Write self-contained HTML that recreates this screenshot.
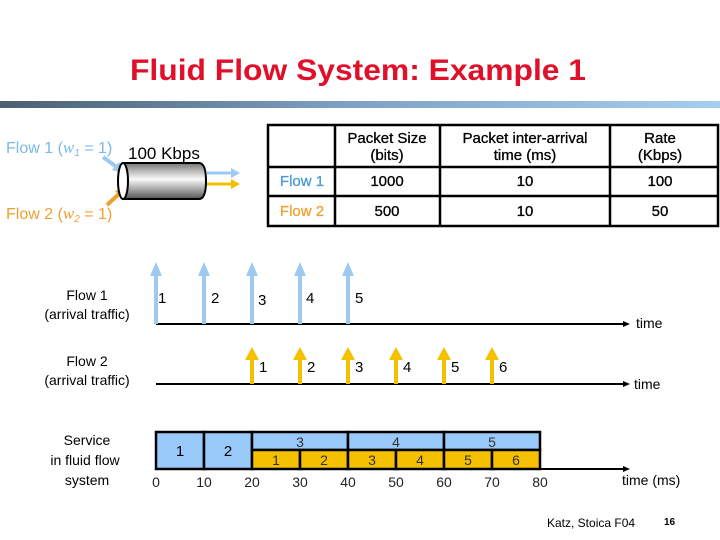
<!DOCTYPE html>
<html><head><meta charset="utf-8"><style>
html,body{margin:0;padding:0;background:#fff}
svg{display:block}
text{font-family:"Liberation Sans",sans-serif}
</style></head><body>
<svg width="720" height="540" viewBox="0 0 720 540" xmlns="http://www.w3.org/2000/svg">
<defs>
<linearGradient id="bar" x1="0" x2="1" y1="0" y2="0"><stop offset="0" stop-color="#4a5f72"/><stop offset="0.5" stop-color="#7fa3c8"/><stop offset="1" stop-color="#a6cdf2"/></linearGradient>
<linearGradient id="cyl" x1="0" x2="0" y1="0" y2="1"><stop offset="0" stop-color="#777"/><stop offset="0.45" stop-color="#fafafa"/><stop offset="1" stop-color="#555"/></linearGradient>
</defs>
<text x="130" y="80" font-size="30" font-weight="bold" fill="#e0102a" textLength="456" lengthAdjust="spacingAndGlyphs">Fluid Flow System: Example 1</text>
<rect x="0" y="101" width="720" height="7" fill="url(#bar)"/>

<text x="6" y="153" font-size="16" fill="#7ab8e8">Flow 1 (<tspan font-family="Liberation Serif" font-style="italic" font-size="17">w</tspan><tspan font-size="10" font-style="italic" dy="3">1</tspan><tspan dy="-3"> = 1)</tspan></text>
<text x="128" y="159" font-size="17" fill="#000">100 Kbps</text>
<text x="6" y="219" font-size="16" fill="#f0a030">Flow 2 (<tspan font-family="Liberation Serif" font-style="italic" font-size="17">w</tspan><tspan font-size="10" font-style="italic" dy="3">2</tspan><tspan dy="-3"> = 1)</tspan></text>
<line x1="103" y1="157" x2="118" y2="168" stroke="#9ccaf0" stroke-width="4"/>
<polygon points="125,174 112,170 119,162" fill="#9ccaf0"/>
<line x1="107" y1="205" x2="120" y2="193" stroke="#f0a030" stroke-width="4"/>
<polygon points="126,187 123,199 115,191" fill="#f0a030"/>
<path d="M123,163 L199,163 Q206,163 206,181 Q206,199 199,199 L123,199 Z" fill="url(#cyl)" stroke="#000" stroke-width="2"/>
<ellipse cx="123" cy="181" rx="5" ry="18" fill="#fff" stroke="#000" stroke-width="2"/>
<line x1="207" y1="173" x2="232" y2="173" stroke="#9ccaf0" stroke-width="3"/>
<polygon points="240,173 231,168 231,178" fill="#9ccaf0"/>
<line x1="207" y1="184" x2="232" y2="184" stroke="#f5c000" stroke-width="3"/>
<polygon points="240,184 231,179 231,189" fill="#f5c000"/>

<g stroke="#000" stroke-width="2.5" fill="none">
<rect x="268" y="125" width="450" height="101"/>
<line x1="268" y1="167" x2="718" y2="167"/>
<line x1="268" y1="196" x2="718" y2="196"/>
<line x1="335" y1="125" x2="335" y2="226"/>
<line x1="440" y1="125" x2="440" y2="226"/>
<line x1="610" y1="125" x2="610" y2="226"/>
</g>
<g font-size="15" text-anchor="middle" fill="#000" stroke="#000" stroke-width="0.3">
<text x="387" y="143">Packet Size</text><text x="387" y="160">(bits)</text>
<text x="525" y="143">Packet inter-arrival</text><text x="525" y="160">time (ms)</text>
<text x="660" y="143">Rate</text><text x="660" y="160">(Kbps)</text>
<text x="302" y="186" fill="#4a9ad8" stroke="#4a9ad8">Flow 1</text><text x="387" y="186">1000</text><text x="525" y="186">10</text><text x="660" y="186">100</text>
<text x="302" y="216" fill="#f0a030" stroke="#f0a030">Flow 2</text><text x="387" y="216">500</text><text x="525" y="216">10</text><text x="660" y="216">50</text>
</g>

<g font-size="14" text-anchor="middle" fill="#000">
<text x="87" y="300">Flow 1</text><text x="87" y="319">(arrival traffic)</text>
<text x="87" y="366">Flow 2</text><text x="87" y="385">(arrival traffic)</text>
<text x="87" y="445">Service</text><text x="85" y="465">in fluid flow</text><text x="87" y="485">system</text>
</g>

<g stroke="#000" stroke-width="2">
<line x1="156" y1="324" x2="626" y2="324"/>
<line x1="156" y1="384" x2="626" y2="384"/>
<line x1="156" y1="469" x2="626" y2="469"/>
</g>
<polygon points="630,324 623,321 623,327"/><polygon points="630,384 623,381 623,387"/><polygon points="630,469 623,466 623,472"/>
<g font-size="14" fill="#000">
<text x="636" y="328">time</text>
<text x="634" y="389">time</text>
<text x="622" y="485">time (ms)</text>
</g>

<g fill="#9ccaf0">
<rect x="154" y="274" width="4" height="50"/><polygon points="150,276 156,262 162,276"/>
<rect x="202" y="274" width="4" height="50"/><polygon points="198,276 204,262 210,276"/>
<rect x="250" y="274" width="4" height="50"/><polygon points="246,276 252,262 258,276"/>
<rect x="298" y="274" width="4" height="50"/><polygon points="294,276 300,262 306,276"/>
<rect x="346" y="274" width="4" height="50"/><polygon points="342,276 348,262 354,276"/>
</g>
<g font-size="15" fill="#000">
<text x="158" y="303">1</text><text x="211" y="303">2</text><text x="258" y="305">3</text><text x="306" y="303">4</text><text x="355" y="303">5</text>
</g>
<g fill="#f5c000">
<rect x="250" y="358" width="4" height="26"/><polygon points="245,360 252,347 259,360"/>
<rect x="298" y="358" width="4" height="26"/><polygon points="293,360 300,347 307,360"/>
<rect x="346" y="358" width="4" height="26"/><polygon points="341,360 348,347 355,360"/>
<rect x="394" y="358" width="4" height="26"/><polygon points="389,360 396,347 403,360"/>
<rect x="442" y="358" width="4" height="26"/><polygon points="437,360 444,347 451,360"/>
<rect x="490" y="358" width="4" height="26"/><polygon points="485,360 492,347 499,360"/>
</g>
<g font-size="15" fill="#000">
<text x="259" y="372">1</text><text x="307" y="372">2</text><text x="355" y="372">3</text><text x="403" y="372">4</text><text x="451" y="372">5</text><text x="499" y="372">6</text>
</g>

<g stroke="#000" stroke-width="2.5">
<rect x="156" y="432" width="48" height="37" fill="#99c9f8"/>
<rect x="204" y="432" width="48" height="37" fill="#99c9f8"/>
<rect x="252" y="432" width="96" height="18" fill="#99c9f8"/>
<rect x="348" y="432" width="96" height="18" fill="#99c9f8"/>
<rect x="444" y="432" width="96" height="18" fill="#99c9f8"/>
<rect x="252" y="450" width="48" height="19" fill="#f5c000"/>
<rect x="300" y="450" width="48" height="19" fill="#f5c000"/>
<rect x="348" y="450" width="48" height="19" fill="#f5c000"/>
<rect x="396" y="450" width="48" height="19" fill="#f5c000"/>
<rect x="444" y="450" width="48" height="19" fill="#f5c000"/>
<rect x="492" y="450" width="48" height="19" fill="#f5c000"/>
</g>
<g font-size="15" text-anchor="middle" fill="#000">
<text x="180" y="456">1</text><text x="228" y="456">2</text>
</g>
<g font-size="14" text-anchor="middle" fill="#333">
<text x="300" y="447">3</text><text x="396" y="447">4</text><text x="492" y="447">5</text>
<text x="276" y="465">1</text><text x="324" y="465">2</text><text x="372" y="465">3</text><text x="420" y="465">4</text><text x="468" y="465">5</text><text x="516" y="465">6</text>
</g>
<g font-size="14" text-anchor="middle" fill="#222">
<text x="156" y="487">0</text><text x="204" y="487">10</text><text x="252" y="487">20</text><text x="300" y="487">30</text><text x="348" y="487">40</text><text x="396" y="487">50</text><text x="444" y="487">60</text><text x="492" y="487">70</text><text x="540" y="487">80</text>
</g>
<text x="547" y="527" font-size="12" fill="#000">Katz, Stoica F04</text>
<text x="664" y="525" font-size="10" font-weight="bold" fill="#000">16</text>
</svg>
</body></html>
